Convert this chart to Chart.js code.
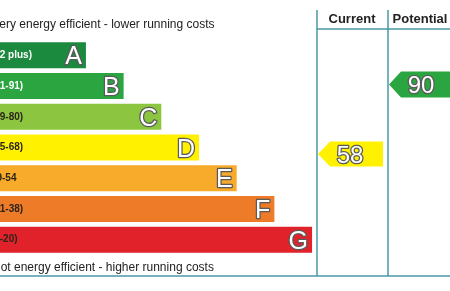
<!DOCTYPE html>
<html>
<head>
<meta charset="utf-8">
<script src="https://cdn.jsdelivr.net/npm/chart.js@4.4.0/dist/chart.umd.min.js"></script>
<style>
html, body { margin: 0; padding: 0; background: #fff; }
</style>
</head>
<body>
<canvas id="epc" width="450" height="291"></canvas>
<script>
// Bandas de eficiência energética
var bandas = ['A', 'B', 'C', 'D', 'E', 'F', 'G'];
var faixas = ['(92 plus)', '(81-91)', '(69-80)', '(55-68)', '39-54', '(21-38)', '(1-20)'];
var comprimentos = [3, 4, 5, 6, 7, 8, 9];
var cores = ['#1b8a3f', '#2aa53f', '#8cc640', '#fff100', '#f8ab2a', '#ee7b28', '#e1222a'];
var corFaixa = ['#ffffff', '#ffffff', '#2b2418', '#2b2418', '#2b2418', '#2b2418', '#2b2418'];

// Classificação atual e potencial
var atual = 58;
var potencial = 90;
var corAtual = '#fff100';
var corPotencial = '#2aa53f';

var FONTE = '"Liberation Sans", Arial, sans-serif';
var LINHA = '#4a98a6';

function textoContorno(ctx, txt, x, y) {
  ctx.lineJoin = 'round';
  ctx.lineWidth = 2.5;
  ctx.strokeStyle = '#5a5a5a';
  ctx.strokeText(txt, x, y);
  ctx.fillStyle = '#ffffff';
  ctx.fillText(txt, x, y);
}

function seta(ctx, x0, x1, yc, h, cor) {
  var ponta = 12;
  ctx.beginPath();
  ctx.moveTo(x0, yc);
  ctx.lineTo(x0 + ponta, yc - h / 2);
  ctx.lineTo(x1, yc - h / 2);
  ctx.lineTo(x1, yc + h / 2);
  ctx.lineTo(x0 + ponta, yc + h / 2);
  ctx.closePath();
  ctx.fillStyle = cor;
  ctx.fill();
}

var epcPlugin = {
  id: 'epc',
  afterDraw: function (chart) {
    var ctx = chart.ctx;
    ctx.save();

    // moldura das colunas
    ctx.strokeStyle = LINHA;
    ctx.lineWidth = 1.5;
    ctx.beginPath();
    ctx.moveTo(317, 10); ctx.lineTo(317, 276);
    ctx.moveTo(388, 10); ctx.lineTo(388, 276);
    ctx.moveTo(317, 29); ctx.lineTo(450, 29);
    ctx.moveTo(0, 276); ctx.lineTo(450, 276);
    ctx.stroke();

    // cabeçalhos
    ctx.fillStyle = '#222';
    ctx.font = 'bold 13px ' + FONTE;
    ctx.textAlign = 'center';
    ctx.textBaseline = 'middle';
    ctx.fillText('Current', 352, 19);
    ctx.fillText('Potential', 420, 19);

    // textos de topo e rodapé
    ctx.font = '12px ' + FONTE;
    ctx.textAlign = 'left';
    ctx.fillStyle = '#222';
    ctx.fillText('Very energy efficient - lower running costs', -8, 25);
    ctx.fillText('Not energy efficient - higher running costs', -8, 268);

    // letras e faixas nas barras
    var meta = chart.getDatasetMeta(0);
    meta.data.forEach(function (bar, i) {
      ctx.font = 'bold 10px ' + FONTE;
      ctx.textAlign = 'left';
      ctx.textBaseline = 'middle';
      ctx.fillStyle = corFaixa[i];
      ctx.fillText(faixas[i], bar.base + 18, bar.y);

      ctx.font = '25px ' + FONTE;
      ctx.textAlign = 'right';
      ctx.textBaseline = 'alphabetic';
      textoContorno(ctx, bandas[i], bar.x - 4, bar.y + 9);
    });

    // setas de classificação
    var yR = chart.scales.yRating;
    var yA = yR.getPixelForValue(atual);
    var yP = yR.getPixelForValue(potencial);
    seta(ctx, 318, 383, yA, 25, corAtual);
    seta(ctx, 389, 454, yP, 26, corPotencial);

    ctx.font = '24px ' + FONTE;
    ctx.textAlign = 'center';
    ctx.textBaseline = 'alphabetic';
    textoContorno(ctx, String(atual), 350, yA + 8.5);
    textoContorno(ctx, String(potencial), 421, yP + 8.5);

    ctx.restore();
  }
};

var chart = new Chart(document.getElementById('epc').getContext('2d'), {
  type: 'bar',
  data: {
    labels: bandas,
    datasets: [{
      data: comprimentos,
      backgroundColor: cores,
      borderWidth: 0,
      barPercentage: 0.847,
      categoryPercentage: 1
    }]
  },
  options: {
    indexAxis: 'y',
    responsive: false,
    animation: false,
    devicePixelRatio: 1,
    layout: { padding: { top: 40, bottom: 36, left: 0, right: 0 } },
    plugins: { legend: { display: false }, tooltip: { enabled: false } },
    scales: {
      x: { type: 'linear', min: 0.72, max: 12.66, display: false },
      y: { type: 'category', display: false },
      yRating: { type: 'linear', axis: 'y', min: 17, max: 105, display: false }
    }
  },
  plugins: [epcPlugin]
});
</script>
</body>
</html>
